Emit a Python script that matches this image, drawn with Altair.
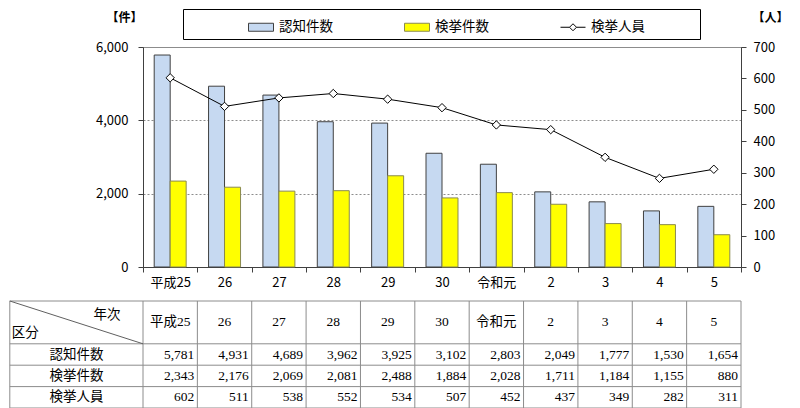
import altair as alt
import pandas as pd

# ---------------- data ----------------
years = ["平成25", "26", "27", "28", "29", "30", "令和元", "2", "3", "4", "5"]
series_names = ["認知件数", "検挙件数", "検挙人員"]
ninchi = [5781, 4931, 4689, 3962, 3925, 3102, 2803, 2049, 1777, 1530, 1654]
kenkyo = [2343, 2176, 2069, 2081, 2488, 1884, 2028, 1711, 1184, 1155, 880]
jinin = [602, 511, 538, 552, 534, 507, 452, 437, 349, 282, 311]

left_ticks = [0, 2000, 4000, 6000]
right_ticks = [0, 100, 200, 300, 400, 500, 600, 700]

FONT = "Noto Sans CJK JP"
SERIF = "Liberation Serif, Noto Sans CJK JP"

bar_df = pd.DataFrame({
    "年次": years * 2,
    "系列": [series_names[0]] * len(years) + [series_names[1]] * len(years),
    "件数": ninchi + kenkyo,
})
line_df = pd.DataFrame({"年次": years, "人数": jinin})
legend_df = pd.DataFrame({"系列": series_names})

# legend symbols (unit coordinates); the trailing move-to widens the last entry
RECT = "M-1,-0.32H1V0.32H-1Z"
LINEDIA = "M-1,0H-0.28M0.28,0H1M-0.28,0L0,-0.28L0.28,0L0,0.28ZM9.6,0"

fill_scale = alt.Scale(domain=series_names, range=["#c6d9f1", "#ffff00", "#ffffff"])
stroke_scale = alt.Scale(domain=series_names, range=["#404040", "#8a8a50", "#000000"])
shape_scale = alt.Scale(domain=series_names, range=[RECT, RECT, LINEDIA])

legend = alt.Legend(
    title=" ", titleOrient="left", titlePadding=60, titleFontSize=13,
    orient="none", legendX=40, legendY=-38, direction="horizontal",
    strokeColor="#000000", fillColor="#ffffff", padding=5,
    symbolSize=625, symbolStrokeWidth=1, symbolOpacity=1,
    labelFont=FONT, labelFontSize=13.5, labelColor="#000000", labelOffset=5,
    columnPadding=69,
)

x_enc = alt.X(
    "年次:N", sort=years,
    scale=alt.Scale(paddingInner=0, paddingOuter=0),
    axis=alt.Axis(title=None, labelAngle=0, tickBand="extent", tickSize=5,
                  tickColor="#404040", domainColor="#404040",
                  labelFont=FONT, labelFontSize=13, labelColor="#000000",
                  labelPadding=4),
)

legend_layer = alt.Chart(legend_df).transform_filter("false").mark_point(
    filled=True, opacity=1, strokeWidth=1).encode(
    fill=alt.Fill("系列:N", scale=fill_scale, legend=legend),
    stroke=alt.Stroke("系列:N", scale=stroke_scale, legend=legend),
    shape=alt.Shape("系列:N", scale=shape_scale, legend=legend),
)

bars = alt.Chart(bar_df).mark_bar(strokeWidth=1).encode(
    x=x_enc,
    xOffset=alt.XOffset("系列:N", sort=series_names[:2],
                        scale=alt.Scale(paddingInner=0, paddingOuter=0.7)),
    y=alt.Y("件数:Q", scale=alt.Scale(domain=[0, 6000], nice=False),
            axis=alt.Axis(values=left_ticks, labelExpr="format(datum.value, ',')",
                          grid=True, gridColor="#8c8c8c", gridDash=[2, 2],
                          tickSize=5, tickColor="#404040", domainColor="#404040",
                          labelFont=FONT, labelFontSize=13, labelColor="#000000",
                          labelPadding=10,
                          title="【件】", titleAngle=0, titleX=-19, titleY=-30,
                          titleAlign="center", titleBaseline="middle",
                          titleFont=FONT, titleFontSize=12, titleFontWeight="bold",
                          titleColor="#000000")),
    fill=alt.Fill("系列:N", scale=fill_scale, legend=legend),
    stroke=alt.Stroke("系列:N", scale=stroke_scale, legend=legend),
)

right_axis = alt.Axis(orient="right", values=right_ticks, grid=False,
                      tickSize=5, tickColor="#404040", domainColor="#404040",
                      labelFont=FONT, labelFontSize=13, labelColor="#000000",
                      labelPadding=7,
                      title="【人】", titleAngle=0, titleX=29, titleY=-30,
                      titleAlign="center", titleBaseline="middle",
                      titleFont=FONT, titleFontSize=12, titleFontWeight="bold",
                      titleColor="#000000")

line = alt.Chart(line_df).mark_line(color="#000000", strokeWidth=1).encode(
    x=x_enc,
    y=alt.Y("人数:Q", scale=alt.Scale(domain=[0, 700], nice=False), axis=right_axis),
)
points = alt.Chart(line_df).mark_point(shape="diamond", filled=True, fill="#ffffff",
                                       stroke="#000000", strokeWidth=1, size=70,
                                       opacity=1).encode(
    x=x_enc,
    y=alt.Y("人数:Q", scale=alt.Scale(domain=[0, 700], nice=False), axis=None),
)

main = alt.layer(legend_layer, bars, line, points).resolve_scale(
    y="independent"
).properties(width=598, height=220, view=alt.ViewBackground(stroke="#8c8c8c"))

# ---------------- table ----------------
H = 2.45  # width of the heading column, in column units
tx = alt.Scale(domain=[0, 11], nice=False, zero=False)
ty = alt.Scale(domain=[0, 5], nice=False, zero=False, reverse=True)
LINE = "#8c8c8c"

hl = pd.DataFrame({"y": [0, 2, 3, 4, 5]}).assign(x0=-H, x1=11)
vl = pd.DataFrame({"x": [-H] + list(range(12))}).assign(y0=0, y1=5)
dg = pd.DataFrame({"x0": [-H], "y0": [0], "x1": [0], "y1": [2]})

h_rules = alt.Chart(hl).mark_rule(color=LINE, strokeWidth=1).encode(
    x=alt.X("x0:Q", scale=tx, axis=None), x2="x1:Q",
    y=alt.Y("y:Q", scale=ty, axis=None))
v_rules = alt.Chart(vl).mark_rule(color=LINE, strokeWidth=1).encode(
    x=alt.X("x:Q", scale=tx, axis=None),
    y=alt.Y("y0:Q", scale=ty, axis=None), y2="y1:Q")
d_rule = alt.Chart(dg).mark_rule(color="#606060", strokeWidth=1).encode(
    x=alt.X("x0:Q", scale=tx, axis=None), x2="x1:Q",
    y=alt.Y("y0:Q", scale=ty, axis=None), y2="y1:Q")

head_df = pd.DataFrame({"x": [i + 0.5 for i in range(len(years))], "y": 1.0, "t": years})
heads = alt.Chart(head_df).mark_text(font=SERIF, fontSize=13.5, color="#000000",
                                     align="center", baseline="middle").encode(
    x=alt.X("x:Q", scale=tx, axis=None), y=alt.Y("y:Q", scale=ty, axis=None), text="t:N")

row_df = pd.DataFrame({"x": -H / 2, "y": [2.5, 3.5, 4.5], "t": series_names})
rows = alt.Chart(row_df).mark_text(font=SERIF, fontSize=13.5, color="#000000",
                                   align="center", baseline="middle").encode(
    x=alt.X("x:Q", scale=tx, axis=None), y=alt.Y("y:Q", scale=ty, axis=None), text="t:N")

val_records = []
for r, vals in enumerate([ninchi, kenkyo, jinin]):
    for i, v in enumerate(vals):
        val_records.append({"x": i + 1, "y": 2.5 + r, "v": v})
val_df = pd.DataFrame(val_records)
vals_txt = alt.Chart(val_df).mark_text(font=SERIF, fontSize=13.5, color="#000000",
                                       align="right", baseline="middle", dx=-3).encode(
    x=alt.X("x:Q", scale=tx, axis=None), y=alt.Y("y:Q", scale=ty, axis=None),
    text=alt.Text("v:Q", format=","))

corner_df = pd.DataFrame({"x": [-0.66], "y": [0.65], "t": ["年次"]})
corner1 = alt.Chart(corner_df).mark_text(font=SERIF, fontSize=13.5, color="#000000",
                                         align="center", baseline="middle").encode(
    x=alt.X("x:Q", scale=tx, axis=None), y=alt.Y("y:Q", scale=ty, axis=None), text="t:N")
corner2_df = pd.DataFrame({"x": [-H], "y": [1.5], "t": ["区分"]})
corner2 = alt.Chart(corner2_df).mark_text(font=SERIF, fontSize=13.5, color="#000000",
                                          align="left", baseline="middle", dx=2).encode(
    x=alt.X("x:Q", scale=tx, axis=None), y=alt.Y("y:Q", scale=ty, axis=None), text="t:N")

table = alt.layer(h_rules, v_rules, d_rule, heads, rows, vals_txt, corner1, corner2).properties(
    width=598, height=107, view=alt.ViewBackground(stroke="transparent"))

chart = alt.vconcat(main, table, spacing=10).properties(padding=0).configure(
    background="#ffffff")

chart.save("out.html", embed_options={"renderer": "svg", "actions": False})
